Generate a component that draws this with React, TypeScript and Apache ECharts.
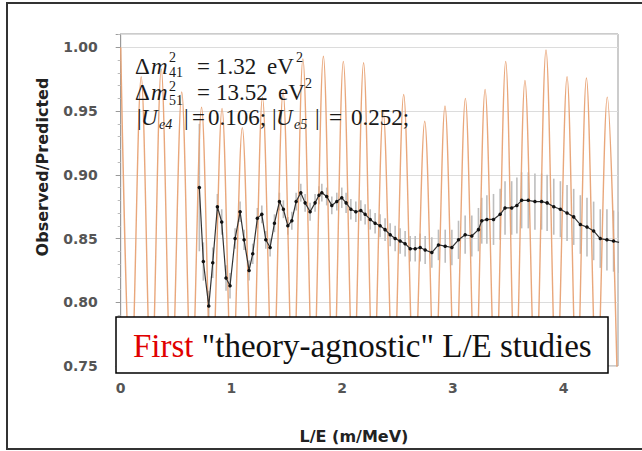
import React, { useEffect, useRef } from "react";
import * as echarts from "echarts";

// Theory curve (orange): oscillation peaks and the troughs between them
const peakX = [0, 0.185, 0.366, 0.551, 0.73, 0.915, 1.098, 1.28, 1.466, 1.645, 1.83, 2.01, 2.193, 2.37, 2.555, 2.745, 2.928, 3.112, 3.29, 3.476, 3.65, 3.84, 4.03, 4.205, 4.393];
const peakY = [1.0, 0.977, 0.983, 0.965, 0.953, 0.952, 0.937, 0.961, 0.965, 0.991, 0.993, 0.989, 0.988, 0.95, 0.963, 0.942, 0.954, 0.96, 0.967, 0.989, 0.974, 0.998, 0.977, 0.976, 0.961];
const troughX = [0.092, 0.276, 0.458, 0.64, 0.822, 1.006, 1.189, 1.373, 1.556, 1.738, 1.92, 2.101, 2.282, 2.462, 2.65, 2.836, 3.02, 3.201, 3.383, 3.563, 3.745, 3.935, 4.118, 4.299, 4.485];
const troughY = [0.73, 0.73, 0.73, 0.73, 0.73, 0.73, 0.73, 0.73, 0.73, 0.73, 0.73, 0.73, 0.73, 0.73, 0.73, 0.73, 0.73, 0.73, 0.73, 0.73, 0.73, 0.73, 0.73, 0.73, 0.73];

// Observed/Predicted data points with error bars
const obsX = [0.71, 0.746, 0.795, 0.831, 0.873, 0.912, 0.951, 0.987, 1.033, 1.078, 1.114, 1.159, 1.192, 1.234, 1.274, 1.31, 1.349, 1.388, 1.433, 1.469, 1.509, 1.545, 1.584, 1.626, 1.665, 1.71, 1.755, 1.79, 1.816, 1.86, 1.906, 1.951, 1.996, 2.035, 2.078, 2.123, 2.168, 2.207, 2.253, 2.297, 2.342, 2.387, 2.433, 2.478, 2.523, 2.568, 2.614, 2.659, 2.704, 2.749, 2.809, 2.869, 2.93, 2.99, 3.05, 3.11, 3.17, 3.23, 3.26, 3.306, 3.366, 3.426, 3.47, 3.53, 3.577, 3.62, 3.68, 3.74, 3.8, 3.85, 3.91, 3.97, 4.03, 4.09, 4.15, 4.21, 4.27, 4.33, 4.39, 4.45, 4.5];
const obsY = [0.89, 0.832, 0.797, 0.831, 0.875, 0.863, 0.819, 0.813, 0.85, 0.871, 0.849, 0.825, 0.838, 0.866, 0.869, 0.849, 0.843, 0.862, 0.879, 0.873, 0.86, 0.864, 0.879, 0.886, 0.878, 0.871, 0.878, 0.884, 0.886, 0.883, 0.876, 0.879, 0.882, 0.878, 0.873, 0.871, 0.872, 0.869, 0.865, 0.862, 0.86, 0.857, 0.853, 0.85, 0.848, 0.846, 0.842, 0.842, 0.843, 0.841, 0.839, 0.845, 0.844, 0.843, 0.849, 0.853, 0.852, 0.857, 0.864, 0.865, 0.865, 0.869, 0.874, 0.874, 0.876, 0.88, 0.88, 0.879, 0.879, 0.878, 0.875, 0.873, 0.87, 0.867, 0.861, 0.859, 0.856, 0.85, 0.849, 0.848, 0.847];
const obsErr = [0.05, 0.015, 0.012, 0.012, 0.01, 0.01, 0.01, 0.01, 0.008, 0.008, 0.008, 0.008, 0.008, 0.008, 0.007, 0.007, 0.007, 0.007, 0.007, 0.007, 0.007, 0.007, 0.007, 0.007, 0.007, 0.007, 0.007, 0.007, 0.007, 0.007, 0.007, 0.007, 0.008, 0.008, 0.008, 0.008, 0.008, 0.008, 0.008, 0.008, 0.009, 0.009, 0.009, 0.01, 0.01, 0.01, 0.01, 0.01, 0.011, 0.011, 0.012, 0.012, 0.013, 0.014, 0.015, 0.015, 0.016, 0.017, 0.018, 0.019, 0.02, 0.02, 0.021, 0.021, 0.022, 0.022, 0.022, 0.022, 0.022, 0.022, 0.022, 0.022, 0.022, 0.022, 0.023, 0.023, 0.023, 0.023, 0.024, 0.024, 0.024];

const SERIF = '"Liberation Serif", "DejaVu Serif", serif';
const MAIN = 23;
const SMALL = 14;

function t(text: string, x: number, y: number, size = MAIN, italic = false) {
  return {
    type: "text",
    x,
    y,
    z: 50,
    style: {
      text,
      fill: "#1a1a1a",
      font: `${italic ? "italic " : ""}${size}px ${SERIF}`,
      align: "left",
      textAlign: "left",
      verticalAlign: "middle",
      textVerticalAlign: "middle",
    },
  };
}

export default function App() {
  const ref = useRef<HTMLDivElement>(null);
  useEffect(() => {
    if (!ref.current) return;
    const chart = echarts.init(ref.current, null, { renderer: "svg" });

    const theory: number[][] = [];
    for (let i = 0; i < peakX.length; i++) {
      theory.push([peakX[i], peakY[i]]);
      if (i < troughX.length) theory.push([troughX[i], troughY[i]]);
    }
    const obs = obsX.map((x, i) => [x, obsY[i]]);
    const errs = obsX.map((x, i) => [x, obsY[i] - obsErr[i], obsY[i] + obsErr[i]]);

    const tickFont = { color: "#555", fontFamily: "DejaVu Sans", fontWeight: "bold", fontSize: 14 };

    chart.setOption({
      animation: false,
      backgroundColor: "#fff",
      grid: { left: 120.7, right: 24, top: 34, bottom: 85, show: true, borderColor: "#999", borderWidth: 1, backgroundColor: "transparent" },
      xAxis: {
        type: "value",
        min: 0,
        max: 4.49,
        interval: 1,
        axisLine: { show: false },
        axisTick: { show: false },
        splitLine: { show: false },
        axisLabel: {
          ...tickFont,
          margin: 15,
          formatter: (v: number) => (Math.abs(v - Math.round(v)) < 1e-6 ? String(Math.round(v)) : ""),
        },
      },
      yAxis: {
        type: "value",
        min: 0.75,
        max: 1.0105,
        interval: 0.05,
        axisLine: { show: true, lineStyle: { color: "#999" } },
        axisTick: { show: true, length: 5, lineStyle: { color: "#999" } },
        minorTick: { show: true, splitNumber: 5, length: 3, lineStyle: { color: "#bbb" } },
        splitLine: { show: true, lineStyle: { color: "#dcdcdc", width: 1 } },
        axisLabel: {
          ...tickFont,
          margin: 23,
          formatter: (v: number) => (Math.abs(v * 20 - Math.round(v * 20)) < 1e-6 ? v.toFixed(2) : ""),
        },
      },
      series: [
        {
          type: "custom",
          name: "errors",
          z: 1,
          clip: true,
          data: errs,
          encode: { x: 0, y: [1, 2] },
          renderItem: (params: any, api: any) => {
            const p1 = api.coord([api.value(0), api.value(1)]);
            const p2 = api.coord([api.value(0), api.value(2)]);
            return {
              type: "line",
              shape: { x1: p1[0], y1: p1[1], x2: p2[0], y2: p2[1] },
              style: { stroke: "#bdbdbd", lineWidth: 1.6 },
            };
          },
        },
        {
          type: "line",
          name: "theory",
          z: 2,
          clip: true,
          data: theory,
          smooth: 0.35,
          showSymbol: false,
          symbol: "none",
          lineStyle: { color: "#E8A274", width: 1.4, opacity: 0.95 },
        },
        {
          type: "line",
          name: "observed",
          z: 3,
          clip: true,
          data: obs,
          symbol: "circle",
          symbolSize: 3.5,
          itemStyle: { color: "#111" },
          lineStyle: { color: "#333", width: 1.2 },
        },
      ],
      graphic: [
        {
          type: "polyline",
          z: 100,
          shape: { points: [[642, 3], [7, 3], [7, 449], [642, 449]] },
          style: { stroke: "#333", lineWidth: 2, fill: null },
        },
        // Annotation lines
        t("Δ", 135, 66), t("m", 151, 66, MAIN, true), t("2", 169, 57, SMALL), t("41", 169, 72, SMALL),
        t("=", 197, 66), t("1.32", 216, 66), t("eV", 267, 66), t("2", 296, 57, SMALL),
        t("Δ", 135, 92), t("m", 151, 92, MAIN, true), t("2", 169, 86, SMALL), t("51", 169, 100.5, SMALL),
        t("=", 197, 92), t("13.52", 216, 92), t("eV", 278, 92), t("2", 305, 83, SMALL),
        t("|", 137, 117), t("U", 141, 117, MAIN, true), t("e4", 159, 124, SMALL, true), t("|", 184, 117),
        t("=", 192, 117), t("0.106;", 208, 117),
        t("|", 272, 117), t("U", 276, 117, MAIN, true), t("e5", 294, 124, SMALL, true), t("|", 315, 117),
        t("=", 329, 117), t("0.252;", 351, 117),
        // Axis titles
        {
          type: "text",
          x: 42,
          y: 167,
          rotation: Math.PI / 2,
          z: 50,
          style: {
            text: "Observed/Predicted",
            fill: "#222",
            font: 'bold 16px "DejaVu Sans"',
            align: "center",
            textAlign: "center",
            verticalAlign: "middle",
            textVerticalAlign: "middle",
          },
        },
        {
          type: "text",
          x: 354,
          y: 436,
          z: 50,
          style: {
            text: "L/E (m/MeV)",
            fill: "#222",
            font: 'bold 16px "DejaVu Sans"',
            align: "center",
            textAlign: "center",
            verticalAlign: "middle",
            textVerticalAlign: "middle",
          },
        },
        // Caption box
        {
          type: "rect",
          z: 200,
          shape: { x: 116, y: 317, width: 492, height: 56 },
          style: { fill: "#fff", stroke: "#000", lineWidth: 1.5 },
        },
        {
          type: "text",
          x: 133,
          y: 346,
          z: 201,
          style: {
            text: '{r|First} "theory-agnostic" L/E studies',
            fill: "#111",
            font: `33px ${SERIF}`,
            fontSize: 33,
            fontFamily: SERIF,
            rich: { r: { fill: "#e00000", fontSize: 33, fontFamily: SERIF } },
            align: "left",
            textAlign: "left",
            verticalAlign: "middle",
            textVerticalAlign: "middle",
          },
        },
      ],
    });
    return () => chart.dispose();
  }, []);
  return <div ref={ref} style={{ position: "absolute", left: 0, top: 0, width: 642, height: 451 }} />;
}
